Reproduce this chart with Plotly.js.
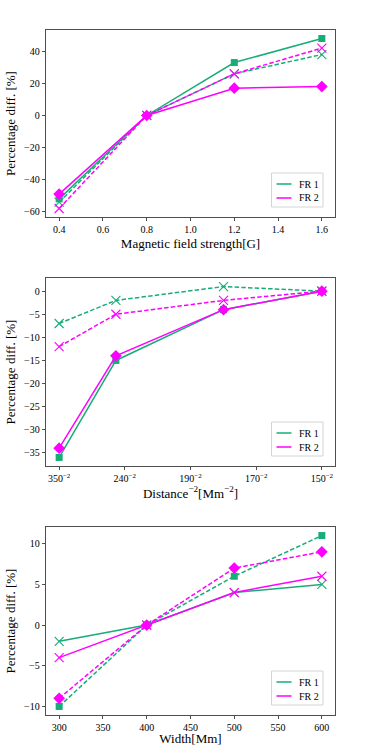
<!DOCTYPE html>
<html>
<head>
<meta charset="utf-8">
<script src="https://cdn.plot.ly/plotly-3.0.1.min.js"></script>
<style>
  html, body { margin: 0; padding: 0; background: #fff; }
  #chart { width: 373px; height: 746px; }
</style>
</head>
<body>
<div id="chart"></div>
<script>
// Panel 1 - magnetic field strength
const fieldStrength = [0.4, 0.8, 1.2, 1.6];
const field_fr1_solid = [-52, 0, 33, 48];
const field_fr1_dash = [-54, 0, 26, 38];
const field_fr2_solid = [-49, 0, 17, 18];
const field_fr2_dash = [-58, 0, 26, 42];

// Panel 2 - distance (plotted as distance^-2)
const distances = [350, 250, 180, 150];
const dist_fr1_solid = [-36, -15, -4, 0];
const dist_fr1_dash = [-7, -2, 1, 0];
const dist_fr2_solid = [-34, -14, -4, 0];
const dist_fr2_dash = [-12, -5, -2, 0];
const distTickLabels = ['350', '240', '190', '170', '150'];

// Panel 3 - width
const widths = [300, 400, 500, 600];
const width_fr1_solid = [-2, 0, 4, 5];
const width_fr1_dash = [-10, 0, 6, 11];
const width_fr2_solid = [-4, 0, 4, 6];
const width_fr2_dash = [-9, 0, 7, 9];

const legendNames = ['FR 1', 'FR 2'];

const GREEN = '#17ad78';
const MAGENTA = '#ff00ff';
const FONT = '"Liberation Serif", "Times New Roman", Times, serif';

// figure geometry (pixels)
const W = 373, H = 746;
const M = { l: 46, r: 38, t: 30, b: 31 };
const plotW = W - M.l - M.r, plotH = H - M.t - M.b;
const panelBottoms = [217, 466, 715];

function invSq(d) { return 1e5 / (d * d); }
const distX = distances.map(invSq);

function series(x, y, color, dash, symbol, xa, ya) {
    const isX = symbol === 'x-thin-open';
    return {
        x: x, y: y, xaxis: xa, yaxis: ya,
        mode: 'lines+markers',
        showlegend: false,
        line: { color: color, width: 1.5, dash: dash ? '4.5px,2.2px' : 'solid' },
        marker: {
            symbol: symbol,
            size: isX ? 9 : (symbol === 'diamond' ? 9 : 7),
            color: color,
            line: { color: color, width: isX ? 1.1 : 0 }
        }
    };
}

const traces = [
    series(fieldStrength, field_fr1_solid, GREEN, false, 'square', 'x', 'y'),
    series(fieldStrength, field_fr1_dash, GREEN, true, 'x-thin-open', 'x', 'y'),
    series(fieldStrength, field_fr2_solid, MAGENTA, false, 'diamond', 'x', 'y'),
    series(fieldStrength, field_fr2_dash, MAGENTA, true, 'x-thin-open', 'x', 'y'),

    series(distX, dist_fr1_solid, GREEN, false, 'square', 'x2', 'y2'),
    series(distX, dist_fr1_dash, GREEN, true, 'x-thin-open', 'x2', 'y2'),
    series(distX, dist_fr2_solid, MAGENTA, false, 'diamond', 'x2', 'y2'),
    series(distX, dist_fr2_dash, MAGENTA, true, 'x-thin-open', 'x2', 'y2'),

    series(widths, width_fr1_solid, GREEN, false, 'x-thin-open', 'x3', 'y3'),
    series(widths, width_fr1_dash, GREEN, true, 'square', 'x3', 'y3'),
    series(widths, width_fr2_solid, MAGENTA, false, 'x-thin-open', 'x3', 'y3'),
    series(widths, width_fr2_dash, MAGENTA, true, 'diamond', 'x3', 'y3')
];

// matplotlib-like 5% padding
function padded(arr) {
    const lo = Math.min(...arr), hi = Math.max(...arr);
    const p = (hi - lo) * 0.05;
    return [lo - p, hi + p];
}

// distance ticks sit evenly between the two ends
const dLo = distX[0], dHi = distX[distX.length - 1];
const distTickVals = distTickLabels.map((_, i) => dLo + (dHi - dLo) * i / (distTickLabels.length - 1));
const distTickText = distTickLabels.map(t => t + '<sup>−2</sup>');

function xAxis(title, range, anchor, extra) {
    return Object.assign({
        range: range, anchor: anchor,
        showline: true, mirror: true, linecolor: '#222', linewidth: 0.8,
        ticks: 'outside', ticklen: 3.5, tickwidth: 0.8, tickcolor: '#222',
        showgrid: false, zeroline: false,
        tickfont: { family: FONT, size: 10, color: '#000' },
        title: { text: title, font: { family: FONT, size: 13, color: '#000' }, standoff: 4 }
    }, extra || {});
}

function yAxis(range, domain, anchor, dtick) {
    return {
        range: range, domain: domain, anchor: anchor, dtick: dtick,
        showline: true, mirror: true, linecolor: '#222', linewidth: 0.8,
        ticks: 'outside', ticklen: 3.5, tickwidth: 0.8, tickcolor: '#222',
        showgrid: false, zeroline: false,
        tickfont: { family: FONT, size: 10, color: '#000' },
        title: { text: 'Percentage diff. [%]', font: { family: FONT, size: 13, color: '#000' }, standoff: 5 }
    };
}

// pixel -> paper helpers
const px = X => (X - M.l) / plotW;
const py = Y => (H - M.b - Y) / plotH;

// matplotlib-style legend box drawn in each panel's lower right corner
const shapes = [];
const annotations = [];
panelBottoms.forEach(bottom => {
    shapes.push({
        type: 'rect', xref: 'paper', yref: 'paper',
        x0: px(271.5), x1: px(323), y0: py(bottom - 44), y1: py(bottom - 10),
        line: { color: '#d4d4d4', width: 1 }, fillcolor: 'rgba(255,255,255,0.85)', layer: 'above'
    });
    [GREEN, MAGENTA].forEach((c, i) => {
        const yy = bottom - 33 + i * 14;
        shapes.push({
            type: 'line', xref: 'paper', yref: 'paper',
            x0: px(276.5), x1: px(291.5), y0: py(yy), y1: py(yy),
            line: { color: c, width: 1.5 }, layer: 'above'
        });
        annotations.push({
            xref: 'paper', yref: 'paper', x: px(296.5), y: py(yy),
            xanchor: 'left', yanchor: 'middle', showarrow: false,
            text: legendNames[i], font: { family: FONT, size: 10, color: '#000' }
        });
    });
});

const all1 = field_fr1_solid.concat(field_fr1_dash, field_fr2_solid, field_fr2_dash);
const all2 = dist_fr1_solid.concat(dist_fr1_dash, dist_fr2_solid, dist_fr2_dash);
const all3 = width_fr1_solid.concat(width_fr1_dash, width_fr2_solid, width_fr2_dash);

const layout = {
    width: W, height: H,
    margin: M,
    showlegend: false,
    paper_bgcolor: '#fff', plot_bgcolor: '#fff',
    font: { family: FONT, color: '#000' },
    xaxis: xAxis('Magnetic field strength[G]', padded(fieldStrength), 'y', { dtick: 0.2, tickformat: '.1f' }),
    yaxis: yAxis(padded(all1), [py(217), py(30)], 'x', 20),
    xaxis2: xAxis('Distance<sup>−2</sup>[Mm<sup>−2</sup>]', padded(distX), 'y2',
        { tickmode: 'array', tickvals: distTickVals, ticktext: distTickText }),
    yaxis2: yAxis(padded(all2), [py(466), py(278)], 'x2', 5),
    xaxis3: xAxis('Width[Mm]', padded(widths), 'y3', { dtick: 50 }),
    yaxis3: yAxis(padded(all3), [py(715), py(527)], 'x3', 5),
    shapes: shapes,
    annotations: annotations
};

Plotly.newPlot('chart', traces, layout, { displayModeBar: false, staticPlot: true });
</script>
</body>
</html>
